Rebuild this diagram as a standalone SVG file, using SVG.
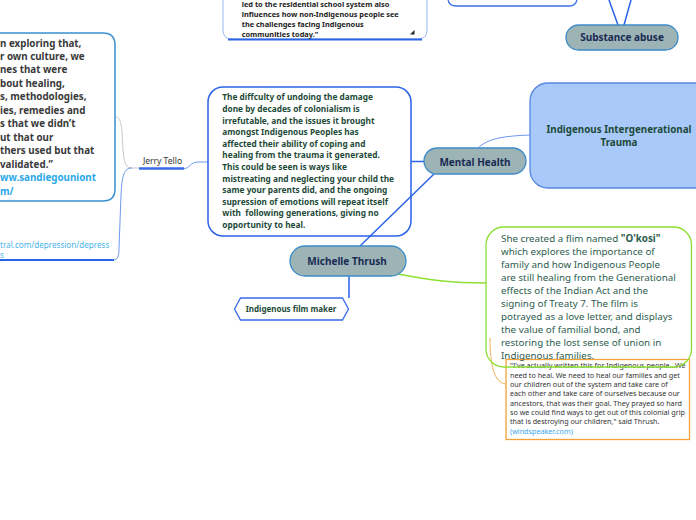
<svg xmlns="http://www.w3.org/2000/svg" width="696" height="520" viewBox="0 0 696 520">
<style>
text{font-family:"Noto Sans","Open Sans",sans-serif}
.topic rect{fill:#9cb4b6;stroke:#3d8bc9;stroke-width:1.3}
.tt{font-size:10px;font-weight:bold;fill:#1a2b52;text-anchor:middle}
.cb{font-size:8.3px;font-weight:bold;fill:#1d4a38}
.lb{font-size:9.8px;font-weight:bold;fill:#3a3a3a}
.gb{font-size:9.8px;fill:#2e5d4f}
.ob{font-size:7.2px;fill:#333}
.link{fill:#2aa8e8}
.conn{fill:none;stroke:#2a62e8;stroke-width:1.5}
.thin{fill:none;stroke:#6f96ef;stroke-width:1}
</style>
<rect width="696" height="520" fill="#fff"/>
<g id="connectors">
<path class="conn" d="M609,0 L618,25"/>
<path class="conn" d="M631,0 L624,25"/>
<path class="thin" d="M478,148 C488,138 505,136 530,135"/>
<path class="conn" d="M411,161.5 L424,161.5"/>
<path class="thin" d="M184,168.5 C190,168.5 190,162 198,162 L208,162"/>
<path fill="none" stroke="#c8c8c8" stroke-width="1" d="M116,117 C122,118 122,130 123,150 C124,163 126,168 132,168 L139,168"/>
<path class="thin" d="M132,168 C124,168 122,175 121,195 L119,248 C119,256 118,260 113,260"/>
<path class="conn" d="M349,276 L349,298"/>
<path fill="none" stroke="#8ce033" stroke-width="1.5" d="M398,274 C430,280 450,283 486,283"/>
<path fill="none" stroke="#f2b25a" stroke-width="1" d="M490,338 C490,365 494,383 506,384"/>
</g>
<g id="top-note">
<path d="M223,0 L223,30 Q223,39 232,39 L418,39 Q427,39 427,30 L427,0" fill="#fff" stroke="#9ab8f2" stroke-width="1"/>
<path d="M228,39.5 L422,39.5" stroke="#2a62e8" stroke-width="2"/>
<text x="241.7" y="6.7" style="font-size:7.4px;font-weight:bold;fill:#222">led to the residential school system also</text>
<text x="241.7" y="16.8" style="font-size:7.4px;font-weight:bold;fill:#222">influences how non-Indigenous people see</text>
<text x="241.7" y="26.9" style="font-size:7.4px;font-weight:bold;fill:#222">the challenges facing Indigenous</text>
<text x="241.7" y="37" style="font-size:7.4px;font-weight:bold;fill:#222">communities today."</text>
<polygon points="410,34.5 414.5,34.5 414.5,30" fill="#222"/>
</g>
<g id="top-right-box">
<path d="M448,-10 L448,-2 Q448,6 456,6 L569,6 Q577,6 577,-2 L577,-10" fill="#fff" stroke="#3a70e8" stroke-width="1.3"/>
</g>
<g id="substance-abuse" class="topic">
<rect x="566" y="25" width="112" height="25" rx="12.5"/>
<text class="tt" x="622" y="41">Substance abuse</text>
</g>
<g id="left-note">
<path d="M-10,33 L103,33 Q115,33 115,45 L115,189 Q115,201 103,201 L-10,201" fill="#fff" stroke="#3a8fd0" stroke-width="1.5"/>
<text class="lb" x="0" y="46.5">n exploring that,</text>
<text class="lb" x="0" y="60">r own culture, we</text>
<text class="lb" x="0" y="73.4">nes that were</text>
<text class="lb" x="0" y="86.9">bout healing,</text>
<text class="lb" x="0" y="100.3">s, methodologies,</text>
<text class="lb" x="0" y="113.8">ies, remedies and</text>
<text class="lb" x="0" y="127.2">s that we didn’t</text>
<text class="lb" x="0" y="140.7">ut that our</text>
<text class="lb" x="0" y="154.1">thers used but that</text>
<text class="lb" x="0" y="167.6">validated.”</text>
<text class="lb link" x="0" y="181">ww.sandiegouniont</text>
<text class="lb link" x="0" y="194.5">m/</text>
</g>
<g id="left-link">
<text x="0" y="247.5" style="font-size:8.1px;fill:#4ab4ea">tral.com/depression/depress</text>
<text x="0" y="257.5" style="font-size:8.1px;fill:#4ab4ea">s</text>
<path d="M0,260 L114,260" stroke="#2a62e8" stroke-width="2"/>
</g>
<g id="jerry-tello">
<text x="162.5" y="164" style="font-size:8.5px;fill:#333;text-anchor:middle">Jerry Tello</text>
<path d="M139,168.5 L184,168.5" stroke="#3a6ae8" stroke-width="2.5"/>
</g>
<g id="colonialism-note">
<rect x="208" y="87" width="203" height="149" rx="15" fill="#fff" stroke="#2a62e8" stroke-width="1.5"/>
<text class="cb" x="222.3" y="100.3">The diffculty of undoing the damage</text>
<text class="cb" x="222.3" y="111.9">done by decades of colonialism is</text>
<text class="cb" x="222.3" y="123.5">irrefutable, and the issues it brought</text>
<text class="cb" x="222.3" y="135.1">amongst Indigenous Peoples has</text>
<text class="cb" x="222.3" y="146.7">affected their ability of coping and</text>
<text class="cb" x="222.3" y="158.3">healing from the trauma it generated.</text>
<text class="cb" x="222.3" y="169.9">This could be seen is ways like</text>
<text class="cb" x="222.3" y="181.5">mistreating and neglecting your child the</text>
<text class="cb" x="222.3" y="193.1">same your parents did, and the ongoing</text>
<text class="cb" x="222.3" y="204.7">supression of emotions will repeat itself</text>
<text class="cb" x="222.3" y="216.3" xml:space="preserve">with  following generations, giving no</text>
<text class="cb" x="222.3" y="227.9">opportunity to heal.</text>
</g>
<g id="connector-overlay">
<path class="conn" d="M434,174 L360,246"/>
</g>
<g id="mental-health" class="topic">
<rect x="424" y="148" width="102" height="26" rx="13"/>
<text class="tt" x="475" y="165.5">Mental Health</text>
</g>
<g id="intergenerational-trauma">
<rect x="530" y="83" width="190" height="105" rx="18" fill="#a9c9fb" stroke="#5588dd" stroke-width="1.3"/>
<text x="619" y="132.8" style="font-size:9.8px;font-weight:bold;fill:#1d4a38;text-anchor:middle">Indigenous Intergenerational</text>
<text x="619" y="146.2" style="font-size:9.8px;font-weight:bold;fill:#1d4a38;text-anchor:middle">Trauma</text>
</g>
<g id="michelle-thrush" class="topic">
<rect x="290" y="246" width="116" height="30" rx="15"/>
<text class="tt" x="347" y="264.5">Michelle Thrush</text>
</g>
<g id="film-maker">
<polygon points="234.5,309 240.5,298 342.5,298 348.5,309 342.5,320 240.5,320" fill="#fff" stroke="#3a6ae8" stroke-width="1.3"/>
<text x="291" y="312" style="font-size:8px;font-weight:bold;fill:#1d4a38;text-anchor:middle">Indigenous film maker</text>
</g>
<g id="quote-note">
<rect x="506" y="359.5" width="183.5" height="80" fill="#fff" stroke="#f2a43a" stroke-width="1.3"/>
<text class="ob" x="510" y="368.2">"I've actually written this for Indigenous people...We</text>
<text class="ob" x="510" y="377.5">need to heal. We need to heal our families and get</text>
<text class="ob" x="510" y="386.9">our children out of the system and take care of</text>
<text class="ob" x="510" y="396.2">each other and take care of ourselves because our</text>
<text class="ob" x="510" y="405.5">ancestors, that was their goal. They prayed so hard</text>
<text class="ob" x="510" y="414.9">so we could find ways to get out of this colonial grip</text>
<text class="ob" x="510" y="424.2">that is destroying our children," said Thrush.</text>
<text class="ob" x="510" y="433.5" style="fill:#3aa8ea">(windspeaker.com)</text>
</g>
<g id="okosi-note">
<rect x="486" y="227" width="205.5" height="140" rx="18" fill="none" stroke="#8ce033" stroke-width="1.3"/>
<text class="gb" x="501" y="241.8">She created a flim named <tspan font-weight="bold">"O'kosi"</tspan></text>
<text class="gb" x="501" y="254.8">which explores the importance of</text>
<text class="gb" x="501" y="267.8">family and how Indigenous People</text>
<text class="gb" x="501" y="280.8">are still healing from the Generational</text>
<text class="gb" x="501" y="293.8">effects of the Indian Act and the</text>
<text class="gb" x="501" y="306.8">signing of Treaty 7. The film is</text>
<text class="gb" x="501" y="319.8">potrayed as a love letter, and displays</text>
<text class="gb" x="501" y="332.8">the value of familial bond, and</text>
<text class="gb" x="501" y="345.8">restoring the lost sense of union in</text>
<text class="gb" x="501" y="358.8">Indigenous families.</text>
</g>
</svg>
